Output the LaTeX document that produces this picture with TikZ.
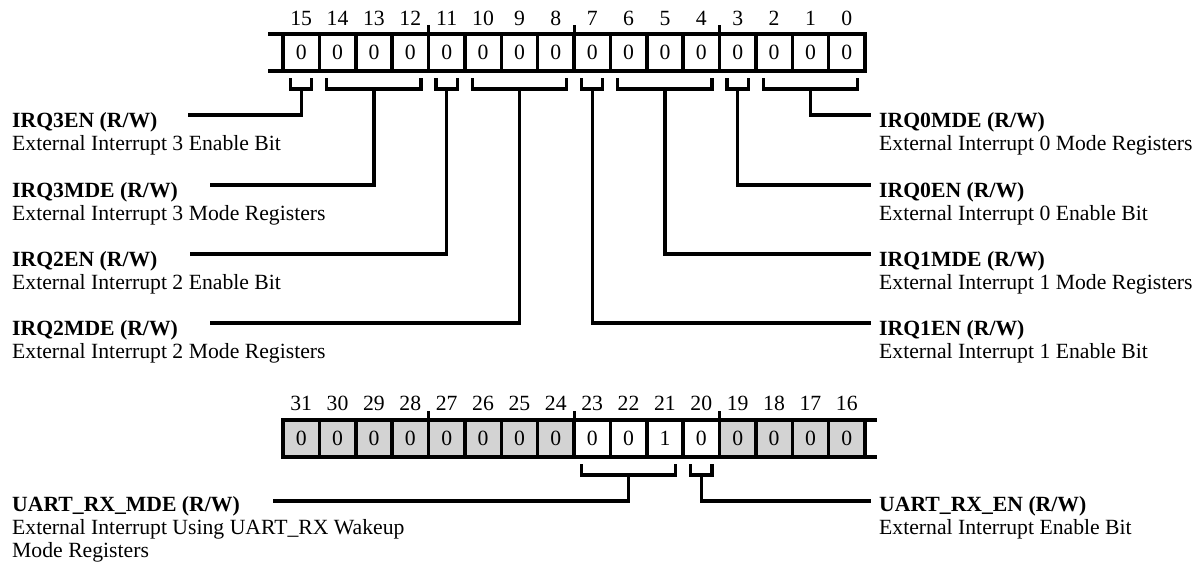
\documentclass[tikz,border=0pt]{standalone}
\usepackage{fontspec}
\setmainfont{Liberation Serif}
\usepackage{xcolor}
\usepackage{tikz}
\usetikzlibrary{calc}
\definecolor{ReservedGray}{HTML}{D3D3D3}
\newcommand{\regfont}{\fontsize{21.7}{26}\selectfont}
% bracket under cells #1..#2, stem start named #3
\newcommand{\bitbrace}[3]{%
    \draw[bracket] ([shift={(7.5,7)}]#1.south west) |- ([shift={(-7.5,18)}]#2.south east) -- ++(0,-11);
    \coordinate (#3) at ($(#1.south west)!0.5!(#2.south east)+(0,18)$);
}

\begin{document}
\begin{tikzpicture}[
        x=1pt, y=-1pt,
        font=\regfont,
        cell/.style={
            draw,
            line width=3.5pt,
            minimum width=36.375pt,
            minimum height=37pt,
            inner sep=0pt,
            outer sep=0pt,
            fill=white
        },
        rsvcell/.style={
            cell,
            fill=ReservedGray
        },
        bitnum/.style={anchor=base, inner sep=0pt},
        regline/.style={line width=3.5pt},
        tick/.style={line width=3pt},
        bracket/.style={line width=3.2pt},
        wire/.style={line width=3.2pt},
        fieldname/.style={anchor=base west, inner sep=0pt, font=\regfont\bfseries},
        fielddesc/.style={anchor=base west, inner sep=0pt}
    ]
        \useasboundingbox (0,0) rectangle (1201,568);

        % lower half word, bits 15..0
        \foreach \b in {0,...,15} {
            \node[cell] (c\b) at ({301.19+(15-\b)*36.375},52.5) {0};
            \node[bitnum] (n\b) at ({301.19+(15-\b)*36.375},25) {\b};
        }
        \coordinate (topNW) at (268,34);
        \coordinate (topSW) at (268,71);
        \draw[regline] (topNW) -- (c15.north west);
        \draw[regline] (topSW) -- (c15.south west);
        \foreach \b in {12,8,4}
            \draw[tick] (c\b.north east) -- ++(0,-9);

        % upper half word, bits 31..16
        \foreach \b in {16,17,18,19,24,25,26,27,28,29,30,31}
            \node[rsvcell] (c\b) at ({301.19+(31-\b)*36.375},438.5) {0};
        \foreach \b/\v in {20/0,21/1,22/0,23/0}
            \node[cell] (c\b) at ({301.19+(31-\b)*36.375},438.5) {\v};
        \foreach \b in {16,...,31}
            \node[bitnum] (n\b) at ({301.19+(31-\b)*36.375},410) {\b};
        \coordinate (botNE) at (877,420);
        \coordinate (botSE) at (877,457);
        \draw[regline] (c16.north east) -- (botNE);
        \draw[regline] (c16.south east) -- (botSE);
        \foreach \b in {28,24,20}
            \draw[tick] (c\b.north east) -- ++(0,-9);

        % brackets
        \bitbrace{c15}{c15}{g15}
        \bitbrace{c14}{c12}{g14}
        \bitbrace{c11}{c11}{g11}
        \bitbrace{c10}{c8}{g10}
        \bitbrace{c7}{c7}{g7}
        \bitbrace{c6}{c4}{g6}
        \bitbrace{c3}{c3}{g3}
        \bitbrace{c2}{c0}{g2}
        \bitbrace{c23}{c21}{g23}
        \bitbrace{c20}{c20}{g20}

        % field labels
        \node[fieldname] (t15) at (12,127) {IRQ3EN (R/W)};
        \node[fielddesc] (d15) at (12,150) {External Interrupt 3 Enable Bit};
        \node[fieldname] (t14) at (12,197) {IRQ3MDE (R/W)};
        \node[fielddesc] (d14) at (12,220) {External Interrupt 3 Mode Registers};
        \node[fieldname] (t11) at (12,266) {IRQ2EN (R/W)};
        \node[fielddesc] (d11) at (12,289) {External Interrupt 2 Enable Bit};
        \node[fieldname] (t10) at (12,335) {IRQ2MDE (R/W)};
        \node[fielddesc] (d10) at (12,358) {External Interrupt 2 Mode Registers};

        \node[fieldname] (t2) at (879,127) {IRQ0MDE (R/W)};
        \node[fielddesc] (d2) at (879,150) {External Interrupt 0 Mode Registers};
        \node[fieldname] (t3) at (879,197) {IRQ0EN (R/W)};
        \node[fielddesc] (d3) at (879,220) {External Interrupt 0 Enable Bit};
        \node[fieldname] (t6) at (879,266) {IRQ1MDE (R/W)};
        \node[fielddesc] (d6) at (879,289) {External Interrupt 1 Mode Registers};
        \node[fieldname] (t7) at (879,335) {IRQ1EN (R/W)};
        \node[fielddesc] (d7) at (879,358) {External Interrupt 1 Enable Bit};

        \node[fieldname] (t23) at (12,511) {UART\_RX\_MDE (R/W)};
        \node[fielddesc] (d23) at (12,534) {External Interrupt Using UART\_RX Wakeup};
        \node[fielddesc] (d23b) at (12,557) {Mode Registers};
        \node[fieldname] (t20) at (879,511) {UART\_RX\_EN (R/W)};
        \node[fielddesc] (d20) at (879,534) {External Interrupt Enable Bit};

        % leader ends
        \coordinate (e15) at (188,115);
        \coordinate (e14) at (210,185);
        \coordinate (e11) at (190,254);
        \coordinate (e10) at (210,323);
        \coordinate (e2) at (871,115);
        \coordinate (e3) at (871,185);
        \coordinate (e6) at (871,254);
        \coordinate (e7) at (871,323);
        \coordinate (e23) at (273,501);
        \coordinate (e20) at (871,501);

        \draw[wire] (g15) |- (e15);
        \draw[wire] (g14) |- (e14);
        \draw[wire] (g11) |- (e11);
        \draw[wire] (g10) |- (e10);
        \draw[wire] (g2) |- (e2);
        \draw[wire] (g3) |- (e3);
        \draw[wire] (g6) |- (e6);
        \draw[wire] (g7) |- (e7);
        \draw[wire] (g23) |- (e23);
        \draw[wire] (g20) |- (e20);
    \end{tikzpicture}
\end{document}
